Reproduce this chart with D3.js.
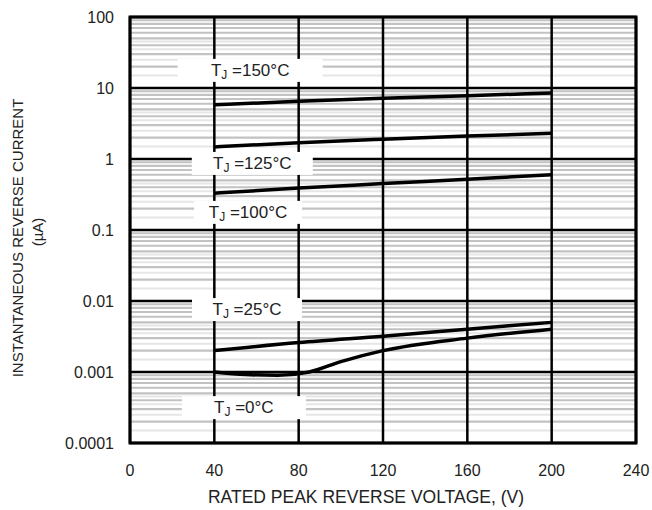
<!DOCTYPE html>
<html>
<head>
<meta charset="utf-8">
<script src="https://cdn.jsdelivr.net/npm/d3@7.9.0/dist/d3.min.js"></script>
<style>
  body { margin: 0; background: #fff; }
  text { font-family: "Liberation Sans", Arial, sans-serif; fill: #222; }
</style>
</head>
<body>
<svg id="chart" width="652" height="510"></svg>
<script>
// voltage points (V)
const volts = [40, 80, 120, 160, 200];
const volts0 = [40, 55, 70, 85, 100, 120, 160, 200];

// reverse current (uA) per junction temperature
const i150 = [5.8, 6.5, 7.2, 7.8, 8.5];
const i125 = [1.48, 1.7, 1.9, 2.1, 2.3];
const i100 = [0.33, 0.39, 0.45, 0.52, 0.6];
const i25 = [0.002, 0.0026, 0.0032, 0.004, 0.005];
const i0 = [0.001, 0.00092, 0.0009, 0.001, 0.0014, 0.002, 0.003, 0.004];

const xTicks = [0, 40, 80, 120, 160, 200, 240];
const yTicks = [0.0001, 0.001, 0.01, 0.1, 1, 10, 100];
const yTickLabels = ["0.0001", "0.001", "0.01", "0.1", "1", "10", "100"];

const tempLabels = ["150", "125", "100", "25", "0"];
// label anchor: [voltage, current]
const labelPos = [[57, 18], [58, 0.88], [56, 0.18], [55.5, 0.0077], [54, 0.00032]];
const boxW = [145, 121, 108, 110, 124];

const svg = d3.select('#chart');
const margin = { left: 130, right: 16, top: 17, bottom: 67 };
const W = 652, H = 510;

let x = d3.scaleLinear().domain([0, 240]).range([margin.left, W - margin.right]);
let y = d3.scaleLog().domain([0.0001, 100]).range([H - margin.bottom, margin.top]);

// minor grid lines 2..9 per decade
let minors = [];
for (let e = -4; e < 2; e++) {
  for (let m = 2; m <= 9; m++) minors.push(m * Math.pow(10, e));
}
// faint in-between lines
let faint = [];
for (let e = -4; e < 2; e++) {
  [1.5, 2.5, 3.5, 4.5].forEach(m => faint.push(m * Math.pow(10, e)));
}

let grid = svg.append('g');
grid.selectAll('line.faint')
  .data(faint)
  .enter()
  .append('line')
  .attr('x1', x(0)).attr('x2', x(240))
  .attr('y1', d => y(d)).attr('y2', d => y(d))
  .attr('stroke', '#e6e6e6').attr('stroke-width', 2);

grid.selectAll('line.minor')
  .data(minors)
  .enter()
  .append('line')
  .attr('x1', x(0)).attr('x2', x(240))
  .attr('y1', d => y(d)).attr('y2', d => y(d))
  .attr('stroke', '#c2c2c2').attr('stroke-width', 2.2);

// major grid
grid.selectAll('line.hmaj')
  .data(yTicks)
  .enter()
  .append('line')
  .attr('x1', x(0)).attr('x2', x(240))
  .attr('y1', d => y(d)).attr('y2', d => y(d))
  .attr('stroke', '#000').attr('stroke-width', 2.5);

grid.selectAll('line.vmaj')
  .data(xTicks)
  .enter()
  .append('line')
  .attr('x1', d => x(d)).attr('x2', d => x(d))
  .attr('y1', y(100)).attr('y2', y(0.0001))
  .attr('stroke', '#000').attr('stroke-width', 2.5);

// curves
let line = d3.line().x(d => x(d[0])).y(d => y(d[1])).curve(d3.curveMonotoneX);
let series = [
  d3.zip(volts, i150),
  d3.zip(volts, i125),
  d3.zip(volts, i100),
  d3.zip(volts, i25),
  d3.zip(volts0, i0)
];
svg.append('g')
  .selectAll('path')
  .data(series)
  .enter()
  .append('path')
  .attr('d', line)
  .attr('fill', 'none')
  .attr('stroke', '#000')
  .attr('stroke-width', 3.5);

// temperature labels with white boxes
let labels = svg.append('g');
tempLabels.forEach((t, i) => {
  let cx = x(labelPos[i][0]);
  let cy = y(labelPos[i][1]);
  let bw = boxW[i];
  labels.append('rect')
    .attr('x', cx - bw / 2).attr('y', cy - 11)
    .attr('width', bw).attr('height', 23)
    .attr('fill', '#fff');
  let tx = labels.append('text')
    .attr('x', cx).attr('y', cy + 6)
    .attr('text-anchor', 'middle')
    .attr('font-size', 17);
  tx.append('tspan').text('T');
  tx.append('tspan').attr('font-size', 12).attr('dy', 3).text('J');
  tx.append('tspan').attr('dy', -3).text(' =' + t + '°C');
});

// frame
svg.append('rect')
  .attr('x', x(0)).attr('y', y(100))
  .attr('width', x(240) - x(0)).attr('height', y(0.0001) - y(100))
  .attr('fill', 'none').attr('stroke', '#000').attr('stroke-width', 3);

// tick labels
svg.append('g')
  .selectAll('text')
  .data(yTicks)
  .enter()
  .append('text')
  .attr('x', 114)
  .attr('y', d => y(d) + 6)
  .attr('text-anchor', 'end')
  .attr('font-size', 16)
  .text((d, i) => yTickLabels[i]);

svg.append('g')
  .selectAll('text')
  .data(xTicks)
  .enter()
  .append('text')
  .attr('x', d => x(d))
  .attr('y', 476)
  .attr('text-anchor', 'middle')
  .attr('font-size', 16)
  .text(d => d);

// axis titles
svg.append('text')
  .attr('x', 366).attr('y', 503)
  .attr('text-anchor', 'middle')
  .attr('font-size', 17.5)
  .text('RATED PEAK REVERSE VOLTAGE, (V)');

svg.append('text')
  .attr('transform', 'translate(23, 238) rotate(-90)')
  .attr('text-anchor', 'middle')
  .attr('font-size', 15)
  .text('INSTANTANEOUS REVERSE CURRENT');
svg.append('text')
  .attr('transform', 'translate(43, 232) rotate(-90)')
  .attr('text-anchor', 'middle')
  .attr('font-size', 15)
  .text('(µA)');
</script>
</body>
</html>
